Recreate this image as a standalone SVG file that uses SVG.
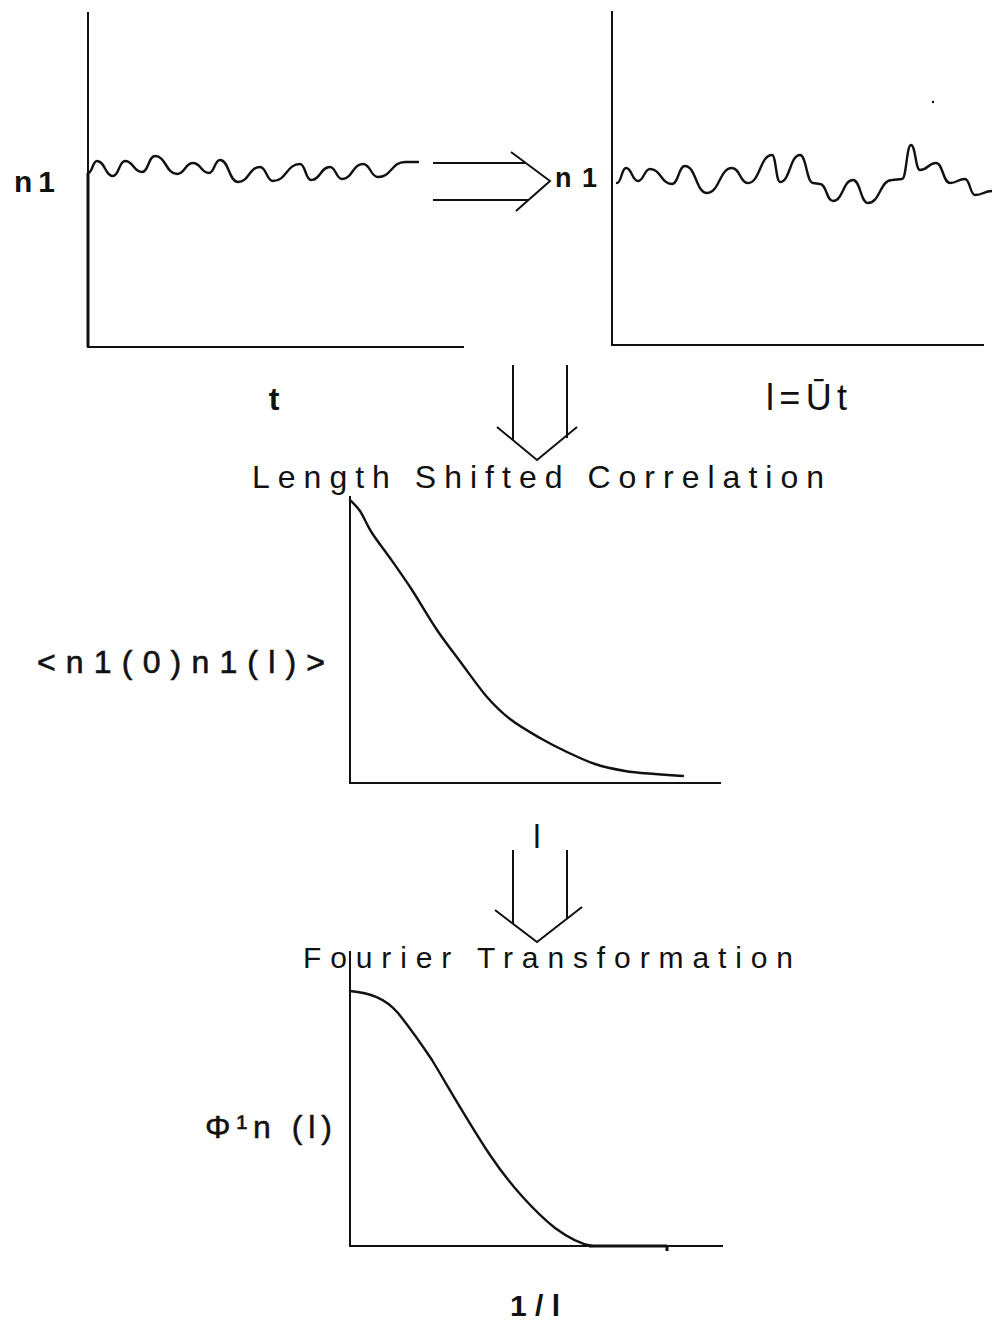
<svg xmlns="http://www.w3.org/2000/svg" width="992" height="1324" viewBox="0 0 992 1324">
<style>
.ax{stroke:#111;stroke-width:2;fill:none;stroke-linecap:square}
.cv{stroke:#111;stroke-width:2.4;fill:none;stroke-linejoin:round;stroke-linecap:round}
.ar{stroke:#111;stroke-width:2;fill:none;stroke-linejoin:miter}
.lb{font-family:"Liberation Sans",Arial,sans-serif;fill:#111}
.b{font-weight:bold}
</style>
<rect width="992" height="1324" fill="#fff"/>

<g id="plot-time">
<path class="ax" d="M88,13 V347 H463"/>
<path d="M88,173 V347" stroke="#111" stroke-width="3" fill="none"/>
<path class="cv" d="M88,173 C92.5,173 92.5,161 97,161 C105,161 105,176 113,176 C119,176 119,161 125,161 C133.5,161 133.5,172 142,172 C148.5,172 148.5,156 155,156 C166,156 166,174 177,174 C185,174 185,163 193,163 C201,163 201,173 209,173 C214.5,173 214.5,160 220,160 C229,160 229,182 238,182 C249,182 249,167 260,167 C266.5,167 266.5,181 273,181 C286.5,181 286.5,164 300,164 C305.5,164 305.5,180 311,180 C320.5,180 320.5,167 330,167 C336,167 336,179 342,179 C352.5,179 352.5,164 363,164 C370.5,164 370.5,177 378,177 C391.5,177 391.5,162 405,162 L418,162"/>
<text class="lb b" x="14" y="192" font-size="30" textLength="41" lengthAdjust="spacing">n1</text>
<text class="lb b" x="274" y="410" font-size="32" text-anchor="middle">t</text>
</g>

<g id="plot-length">
<path class="ax" d="M612,12 V345 H983"/>
<path class="cv" d="M617,183 C621.5,183 621.5,168 626,168 C632,168 632,181 638,181 C644,181 644,169 650,169 C661,169 661,184 672,184 C678.5,184 678.5,166 685,166 C696,166 696,193 707,193 C719.5,193 719.5,168 732,168 C740,168 740,183 748,183 C760,183 760,155 772,155 C776,155 776,182 780,182 C790,182 790,155 800,155 C806.5,155 806.5,183 813,183 L820,184 C826.5,184 826.5,201 833,201 C843,201 843,180 853,180 C860.5,180 860.5,203 868,203 C880,203 880,180 892,180 L902,179 C906.5,179 906.5,145 911,145 C915.5,145 915.5,170 920,170 C928,170 928,163 936,163 C943,163 943,183 950,183 C957.5,183 957.5,179 965,179 C970,179 970,195 975,195 C983.5,195 983.5,191 992,191"/>
<circle cx="933" cy="102" r="1.2" fill="#111"/>
<text class="lb b" x="555" y="187" font-size="27" textLength="42" lengthAdjust="spacing">n1</text>
<text class="lb" x="766" y="410" font-size="36" textLength="81" lengthAdjust="spacing">l=Ūt</text>
</g>

<g id="connectors">
<path class="ar" d="M433,163 H525 M433,200 H529 M511,152 L550,181 L516,211"/>
<path class="ar" d="M513,365 V440 M567,365 V438 M497,427 L537,460 L577,427"/>
<path class="ar" d="M513,850 V924 M567,850 V919 M495,910 L537,942 L582,907"/>
</g>

<g id="title-correlation">
<text class="lb" x="252" y="488" font-size="32" textLength="572" lengthAdjust="spacing">Length Shifted Correlation</text>
</g>

<g id="plot-correlation">
<path class="ax" d="M350,497 V783 H720"/>
<path class="cv" d="M350,500 C351.7,501.8 356.3,505.5 360,511 C363.7,516.5 367,525.2 372,533 C377,540.8 383.3,548.5 390,558 C396.7,567.5 404.2,578 412,590 C419.8,602 428.7,617.7 437,630 C445.3,642.3 453.7,652.8 462,664 C470.3,675.2 479,687.8 487,697 C495,706.2 501.2,712.2 510,719 C518.8,725.8 530.5,732.5 540,738 C549.5,743.5 557.8,747.7 567,752 C576.2,756.3 585.3,760.8 595,764 C604.7,767.2 615,769.3 625,771 C635,772.7 645.3,773.2 655,774 C664.7,774.8 678.3,775.7 683,776"/>
<text class="lb" x="37" y="673" font-size="32" textLength="288" lengthAdjust="spacing" stroke="#111" stroke-width="0.6">&lt;n1(0)n1(l)&gt;</text>
<text class="lb" x="537" y="848" font-size="33" text-anchor="middle">l</text>
</g>

<g id="title-fourier">
<text class="lb" x="303" y="968" font-size="30" textLength="490" lengthAdjust="spacing">Fourier Transformation</text>
</g>

<g id="plot-spectrum">
<path class="ax" d="M350,952 V1246 H722"/>
<path class="cv" d="M350,991 C370,993 385,998 398,1013 C410,1028 420,1042 432,1060 C450,1090 470,1125 490,1155 C510,1185 535,1212 555,1228 C570,1239 580,1244 592,1246"/>
<path d="M589,1246 H667 M667,1246 V1251" stroke="#111" stroke-width="3" fill="none"/>
<text class="lb" x="205" y="1138" font-size="32" textLength="127" lengthAdjust="spacing" stroke="#111" stroke-width="0.5">Φ¹n (l)</text>
<text class="lb b" x="510" y="1316" font-size="30" textLength="50" lengthAdjust="spacing">1/l</text>
</g>
</svg>
